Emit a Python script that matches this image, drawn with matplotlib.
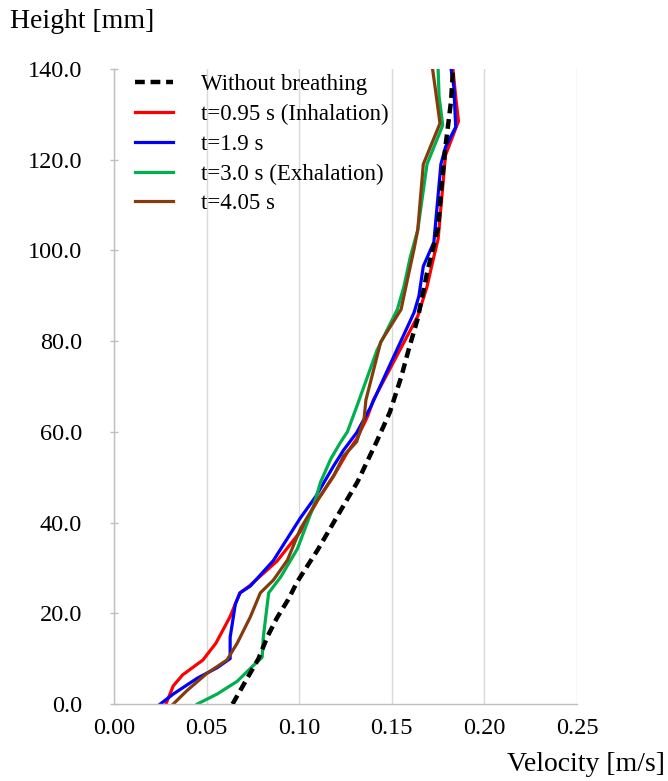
import matplotlib
matplotlib.use("Agg")
import matplotlib.pyplot as plt

plt.rcParams["font.family"] = ["Liberation Serif", "DejaVu Serif"]

# velocity profiles: height [mm] vs velocity [m/s]
h_still = [0, 5, 10, 15, 19, 23, 27, 34, 41.5, 49, 58, 64.4, 72, 78, 85, 95, 105, 115,
           123, 133, 140]
v_still = [0.064, 0.071, 0.078, 0.083, 0.088, 0.094, 0.099, 0.110, 0.1207, 0.1315, 0.142,
           0.149, 0.155, 0.159, 0.164, 0.169, 0.175, 0.177, 0.179, 0.182, 0.183]

h_t095 = [0, 4, 6.4, 9.7, 13.4, 19.2, 24.5, 26, 31.5, 38, 45, 50.3, 55.5, 58.4, 63.5,
          67, 73.9, 85.5, 92, 97.4, 102.5, 121, 128.5, 133.8, 140]
v_t095 = [0.028, 0.032, 0.037, 0.048, 0.055, 0.0626, 0.068, 0.073, 0.088, 0.1006, 0.110,
          0.1186, 0.126, 0.131, 0.137, 0.140, 0.149, 0.164, 0.169, 0.172, 0.175, 0.179,
          0.186, 0.1845, 0.183]

h_t19 = [0, 2.2, 5.7, 8, 10, 14.7, 22, 24.5, 26, 31.6, 41, 45.8, 52.5, 56, 59.8, 65.5,
         73.9, 86.3, 89.9, 96.5, 101.8, 119, 122.8, 127.2, 136, 140]
v_t19 = [0.025, 0.032, 0.045, 0.0557, 0.0627, 0.0627, 0.0655, 0.068, 0.0736, 0.086,
         0.1006, 0.109, 0.1186, 0.124, 0.131, 0.1386, 0.148, 0.162, 0.1646, 0.167, 0.1727,
         0.1765, 0.179, 0.1845, 0.1835, 0.182]

h_t30 = [0, 2.2, 5, 8.4, 10.3, 14.7, 24.5, 28, 34.2, 43.6, 48.9, 54, 57.5, 60,
         65.5, 78, 87, 92, 98.6, 104.5, 119, 127.6, 134, 140]
v_t30 = [0.045, 0.0557, 0.0665, 0.075, 0.080, 0.0806, 0.0835, 0.090, 0.099,
         0.1077, 0.1115, 0.117, 0.122, 0.126, 0.131, 0.142, 0.153, 0.1565, 0.160, 0.164,
         0.169, 0.1775, 0.1755, 0.175]

h_t405 = [0, 3, 6.7, 9.7, 13.4, 19.2, 24.5, 27.3, 31.7, 38.6, 45, 50.3, 54.7, 57.8, 62.8,
          67, 79.8, 87, 93.7, 100.3, 104.5, 119, 128, 135, 140]
v_t405 = [0.032, 0.0395, 0.050, 0.061, 0.0665, 0.0736, 0.079, 0.086, 0.0936, 0.1006,
          0.110, 0.1186, 0.124, 0.131, 0.135, 0.136, 0.144, 0.155, 0.1585, 0.162, 0.164,
          0.167, 0.176, 0.1737, 0.172]

x_ticks = [0.00, 0.05, 0.10, 0.15, 0.20, 0.25]
y_ticks = [0, 20, 40, 60, 80, 100, 120, 140]

fig = plt.figure(figsize=(6.68, 7.81), dpi=100)
ax = fig.add_axes([0.1707, 0.0986, 0.6931, 0.8131])

ax.plot(v_still, h_still, color="black", lw=3.2, linestyle=(0, (2.2, 1.3)),
        label="Without breathing", zorder=3)
ax.plot(v_t095, h_t095, color="#ff0000", lw=2.3, label="t=0.95 s (Inhalation)")
ax.plot(v_t19, h_t19, color="#0000ff", lw=2.3, label="t=1.9 s")
ax.plot(v_t30, h_t30, color="#00b050", lw=2.3, label="t=3.0 s (Exhalation)")
ax.plot(v_t405, h_t405, color="#843c0c", lw=2.3, label="t=4.05 s")

ax.set_xlim(0, 0.25)
ax.set_ylim(0, 140)
ax.set_xticks(x_ticks)
ax.set_xticklabels([f"{t:.2f}" for t in x_ticks])
ax.set_yticks(y_ticks)
ax.set_yticklabels([f"{t:.1f}" for t in y_ticks])

ax.grid(axis="x", color="#d9d9d9", lw=1.0)
ax.set_axisbelow(True)
for side in ["top", "right"]:
    ax.spines[side].set_visible(False)
for side in ["left", "bottom"]:
    ax.spines[side].set_color("#bfbfbf")
    ax.spines[side].set_linewidth(1.0)

ax.tick_params(axis="y", direction="inout", length=6, width=1, color="#bfbfbf",
               labelsize=17.5, pad=20)
ax.tick_params(axis="x", length=0, labelsize=17.5, pad=10)

ax.legend(loc="upper left", bbox_to_anchor=(0.045, 0.992), frameon=False, fontsize=16.5,
          handlelength=1.65, handletextpad=1.25, labelspacing=0.38,
          borderaxespad=0, borderpad=0)

fig.text(0.015, 0.972, "Height [mm]", fontsize=20, ha="left", va="center")
fig.text(0.9955, 0.0205, "Velocity [m/s]", fontsize=20, ha="right", va="center")

fig.savefig("out.png", dpi=100)
